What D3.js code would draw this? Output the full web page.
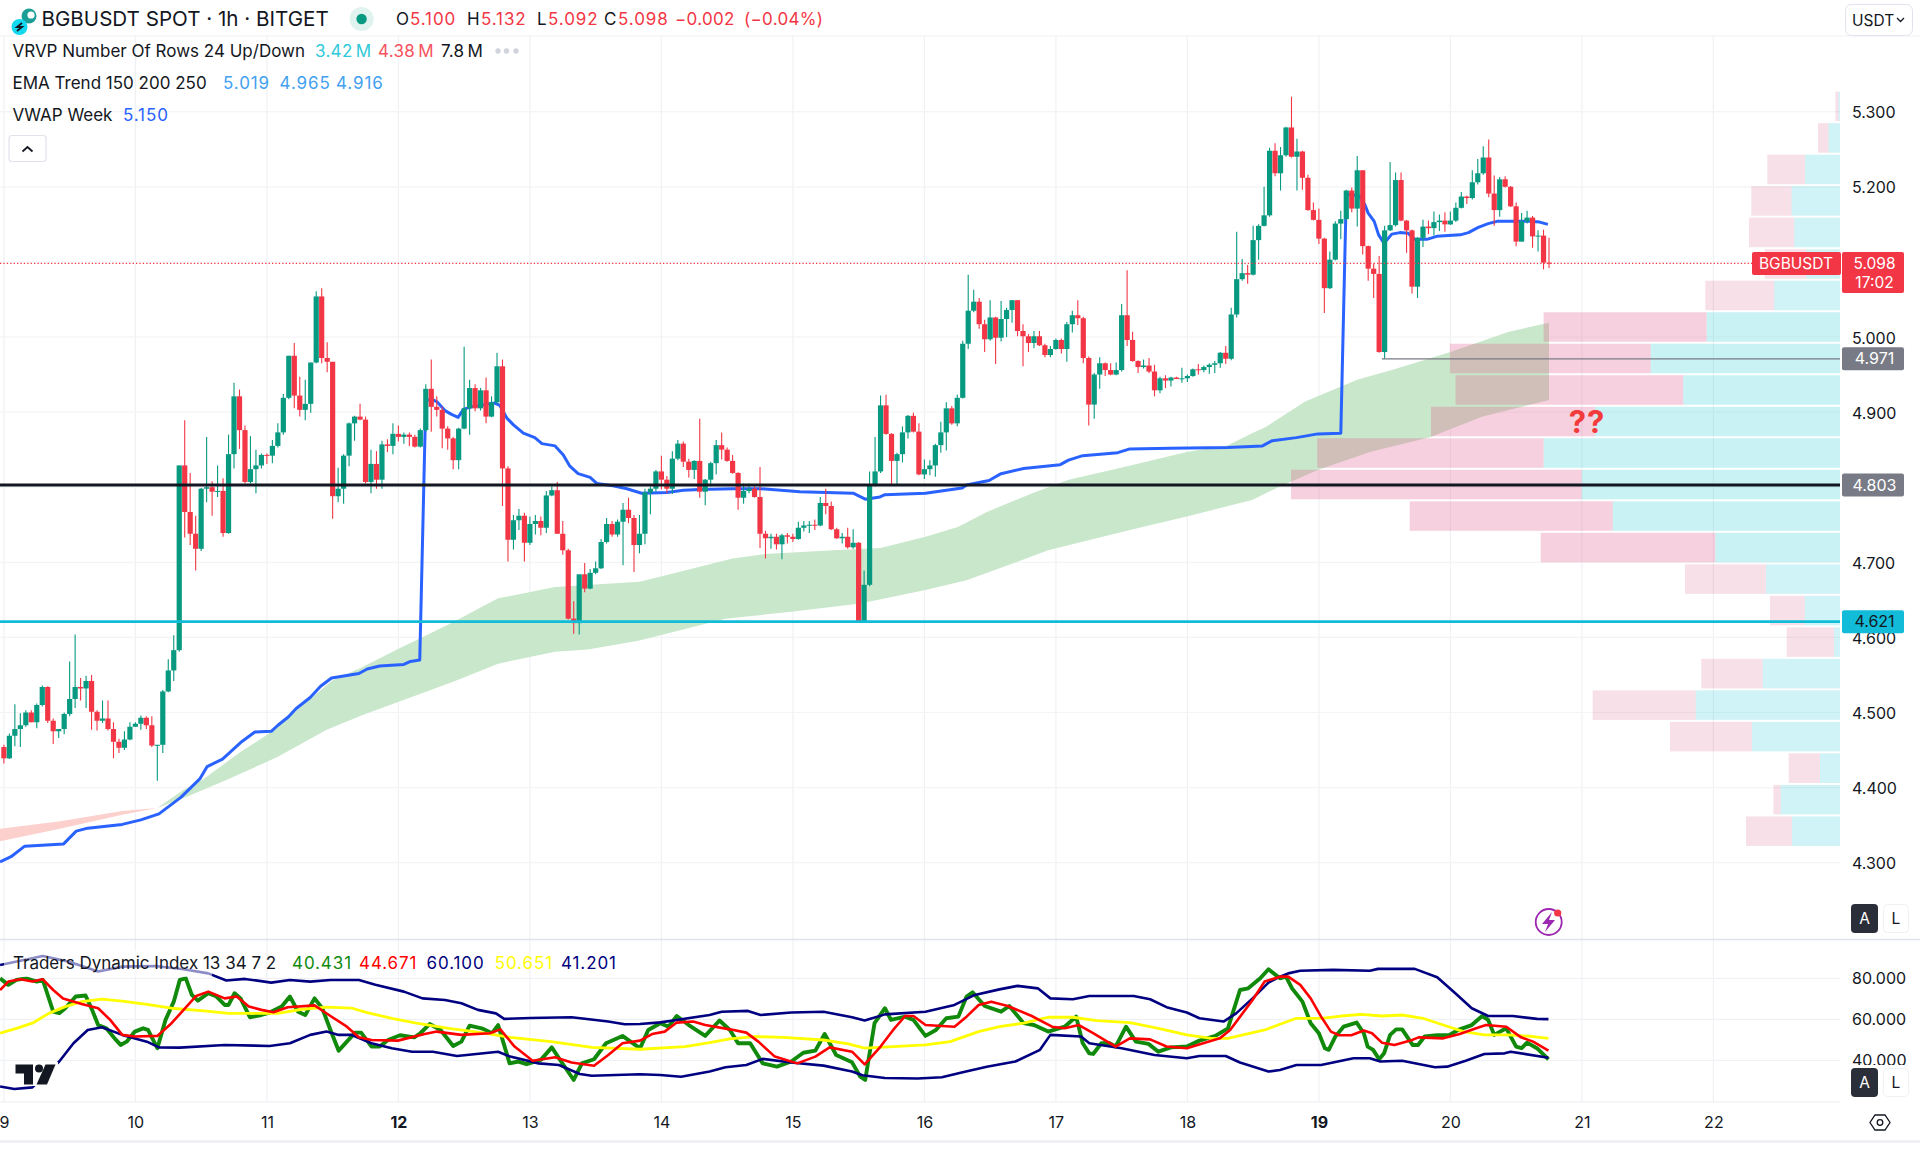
<!DOCTYPE html>
<html>
<head>
<meta charset="utf-8">
<title>BGBUSDT SPOT 1h</title>
<script src="https://cdn.jsdelivr.net/npm/d3@7"></script>
<style>
	html, body { margin: 0; padding: 0; background: #fff; }
	svg { display: block; font-family: Inter, Roboto, sans-serif; }
	.axis text { fill: #131722; }
</style>
</head>
<body>
<svg id="chart" width="1920" height="1151"></svg>
<script>
// hours are counted from the 9th 00:00, one candle per hour
var firstOpen = 4.454

var closes = [
	4.439,4.469,4.478,4.483,4.500,4.487,4.510,4.534,4.489,4.475,
	4.478,4.498,4.518,4.534,4.532,4.542,4.501,4.489,4.492,4.478,
	4.461,4.453,4.464,4.481,4.485,4.493,4.483,4.456,4.457,4.528,
	4.556,4.583,4.829,4.767,4.738,4.718,4.798,4.800,4.794,4.795,
	4.739,4.844,4.921,4.876,4.807,4.824,4.829,4.843,4.842,4.855,
	4.873,4.919,4.975,4.922,4.903,4.911,4.966,5.054,4.972,4.967,
	4.788,4.798,4.842,4.885,4.894,4.890,4.807,4.831,4.810,4.857,
	4.855,4.871,4.867,4.870,4.867,4.854,4.876,4.931,4.907,4.903,
	4.878,4.865,4.836,4.878,4.905,4.932,4.905,4.929,4.894,4.913,
	4.961,4.825,4.730,4.756,4.762,4.726,4.751,4.755,4.746,4.789,
	4.796,4.738,4.716,4.625,4.619,4.684,4.665,4.686,4.692,4.727,
	4.751,4.737,4.754,4.770,4.759,4.723,4.738,4.793,4.798,4.821,
	4.810,4.798,4.838,4.858,4.834,4.823,4.835,4.794,4.810,4.832,
	4.856,4.850,4.835,4.819,4.786,4.795,4.798,4.787,4.738,4.732,
	4.734,4.724,4.736,4.734,4.731,4.746,4.749,4.750,4.749,4.779,
	4.775,4.744,4.732,4.734,4.720,4.726,4.621,4.670,4.803,4.821,
	4.909,4.871,4.835,4.844,4.873,4.895,4.874,4.817,4.824,4.829,
	4.856,4.873,4.905,4.885,4.919,4.991,5.035,5.047,5.017,4.997,
	5.026,4.999,5.024,5.036,5.049,5.008,5.001,4.992,5.001,4.989,
	4.976,4.984,4.996,4.984,5.017,5.029,5.025,4.972,4.910,4.950,
	4.965,4.956,4.950,4.956,5.029,4.996,4.968,4.960,4.962,4.954,
	4.929,4.945,4.942,4.946,4.944,4.945,4.948,4.957,4.956,4.960,
	4.963,4.965,4.979,4.971,5.030,5.077,5.085,5.083,5.129,5.148,
	5.162,5.248,5.218,5.242,5.279,5.240,5.247,5.212,5.169,5.156,
	5.131,5.065,5.103,5.151,5.157,5.195,5.171,5.222,5.121,5.091,
	5.084,4.980,5.142,5.149,5.209,5.155,5.142,5.067,5.132,5.147,
	5.145,5.153,5.155,5.150,5.155,5.172,5.187,5.185,5.206,5.218,
	5.239,5.191,5.169,5.210,5.200,5.174,5.127,5.154,5.159,5.134,
	5.135,5.099,5.098
]

var highs = [
	4.457,4.472,4.511,4.499,4.503,4.503,4.512,4.536,4.535,4.492,
	4.478,4.500,4.568,4.604,4.546,4.549,4.550,4.503,4.516,4.516,
	4.487,4.465,4.475,4.487,4.487,4.496,4.495,4.495,4.457,4.530,
	4.571,4.603,4.829,4.889,4.819,4.762,4.799,4.867,4.808,4.829,
	4.812,4.870,4.939,4.930,4.882,4.868,4.850,4.845,4.845,4.863,
	4.885,4.924,4.975,4.992,4.947,4.943,4.966,5.061,5.065,4.993,
	4.967,4.826,4.844,4.886,4.895,4.911,4.894,4.850,4.848,4.862,
	4.864,4.885,4.882,4.873,4.873,4.870,4.878,4.937,4.970,4.921,
	4.907,4.881,4.867,4.879,4.987,4.943,4.937,4.932,4.946,4.921,
	4.979,4.970,4.828,4.763,4.771,4.766,4.761,4.763,4.761,4.795,
	4.801,4.807,4.755,4.718,4.648,4.684,4.699,4.691,4.701,4.731,
	4.759,4.755,4.757,4.779,4.786,4.763,4.763,4.798,4.801,4.823,
	4.842,4.815,4.848,4.863,4.861,4.838,4.836,4.891,4.811,4.834,
	4.863,4.873,4.853,4.843,4.820,4.805,4.805,4.801,4.827,4.742,
	4.738,4.738,4.738,4.739,4.738,4.754,4.755,4.755,4.757,4.787,
	4.798,4.781,4.746,4.739,4.746,4.744,4.727,4.689,4.821,4.867,
	4.922,4.923,4.872,4.846,4.881,4.896,4.899,4.885,4.837,4.836,
	4.858,4.887,4.913,4.908,4.923,4.995,5.083,5.063,5.052,5.023,
	5.049,5.027,5.048,5.039,5.049,5.049,5.017,5.004,5.008,5.008,
	4.991,4.988,4.998,4.998,5.020,5.035,5.049,5.027,4.974,4.952,
	4.973,4.966,4.965,4.966,5.044,5.089,5.007,4.969,4.970,4.972,
	4.963,4.947,4.949,4.947,4.947,4.959,4.950,4.958,4.964,4.962,
	4.965,4.968,4.980,4.988,5.039,5.140,5.104,5.096,5.148,5.150,
	5.200,5.252,5.258,5.253,5.280,5.320,5.264,5.248,5.216,5.179,
	5.171,5.132,5.114,5.154,5.168,5.196,5.199,5.241,5.222,5.122,
	5.098,5.108,5.148,5.233,5.219,5.219,5.156,5.143,5.133,5.156,
	5.155,5.167,5.163,5.166,5.167,5.179,5.193,5.188,5.222,5.237,
	5.254,5.263,5.215,5.213,5.214,5.201,5.179,5.165,5.168,5.161,
	5.142,5.143,5.132
]

var lows = [
	4.432,4.438,4.455,4.454,4.481,4.487,4.479,4.508,4.486,4.458,
	4.466,4.471,4.495,4.506,4.516,4.506,4.477,4.476,4.486,4.476,
	4.439,4.446,4.450,4.463,4.481,4.477,4.478,4.454,4.409,4.446,
	4.527,4.542,4.581,4.733,4.723,4.689,4.715,4.780,4.762,4.787,
	4.734,4.738,4.825,4.851,4.805,4.805,4.792,4.825,4.831,4.832,
	4.853,4.870,4.917,4.905,4.894,4.889,4.899,4.965,4.965,4.953,
	4.758,4.780,4.778,4.828,4.862,4.889,4.805,4.792,4.798,4.798,
	4.847,4.844,4.861,4.858,4.855,4.853,4.853,4.874,4.874,4.894,
	4.852,4.850,4.824,4.824,4.877,4.870,4.901,4.902,4.885,4.893,
	4.911,4.775,4.701,4.717,4.743,4.701,4.723,4.737,4.736,4.739,
	4.788,4.738,4.710,4.624,4.605,4.604,4.660,4.664,4.684,4.691,
	4.725,4.734,4.734,4.696,4.752,4.687,4.712,4.724,4.764,4.794,
	4.797,4.792,4.791,4.836,4.827,4.813,4.811,4.786,4.776,4.801,
	4.817,4.837,4.834,4.818,4.770,4.778,4.792,4.786,4.719,4.705,
	4.718,4.717,4.704,4.725,4.727,4.730,4.741,4.739,4.743,4.748,
	4.764,4.743,4.731,4.725,4.718,4.718,4.621,4.621,4.668,4.801,
	4.819,4.870,4.804,4.804,4.833,4.865,4.873,4.816,4.811,4.816,
	4.814,4.846,4.849,4.883,4.881,4.918,4.984,5.033,5.011,4.980,
	4.995,4.964,4.994,5.000,5.019,5.001,4.961,4.980,4.985,4.988,
	4.973,4.973,4.983,4.978,4.967,5.006,5.016,4.965,4.882,4.891,
	4.931,4.948,4.949,4.949,4.954,4.988,4.967,4.952,4.958,4.952,
	4.921,4.925,4.932,4.934,4.944,4.939,4.940,4.947,4.950,4.953,
	4.951,4.952,4.959,4.964,4.969,5.026,5.075,5.071,5.082,5.103,
	5.147,5.160,5.214,5.195,5.240,5.239,5.195,5.196,5.168,5.155,
	5.124,5.032,5.064,5.102,5.130,5.155,5.166,5.147,5.110,5.075,
	5.052,4.979,4.971,5.141,5.147,5.154,5.112,5.058,5.052,5.120,
	5.137,5.135,5.141,5.140,5.149,5.153,5.171,5.177,5.183,5.203,
	5.216,5.186,5.148,5.160,5.199,5.173,5.121,5.127,5.151,5.119,
	5.114,5.090,5.092
]

// [hour, price]
var vwapLine = [[-0.7,4.301],[1.3,4.308],[3.8,4.322],[10.9,4.325],[13.2,4.342],[15.3,4.346],[21.6,4.351],[25,4.357],[28.3,4.365],[32.3,4.387],
	[35.8,4.412],[37.1,4.428],[39.9,4.438],[43.2,4.460],[45.8,4.474],[48.8,4.475],[50,4.483],[51.9,4.494],[53.3,4.505],[55.9,4.520],[57.8,4.535],[59.8,4.546],
	[64.8,4.552],[66.3,4.558],[68.6,4.562],[73,4.564],[74.2,4.568],[75.9,4.570],[77,4.916],[78.4,4.916],[79,4.914],[80.5,4.902],[81.7,4.897],[82.9,4.893],
	[83.9,4.904],[85.4,4.907],[89.6,4.912],[90.5,4.909],[91.8,4.892],[93,4.883],[94.8,4.872],[96.9,4.866],[98.2,4.858],[100.6,4.855],[102.1,4.843],[103.3,4.828],
	[104.8,4.818],[107,4.813],[108.2,4.805],[111.2,4.802],[113.7,4.798],[116.4,4.792],[121,4.793],[124,4.796],[127,4.797],[133,4.798],[138,4.798],[145.3,4.794],
	[155,4.792],[157.2,4.784],[159.9,4.787],[160.8,4.790],[168.2,4.792],[174.9,4.799],[175.7,4.803],[179.8,4.809],[182,4.818],[186.1,4.825],[192.8,4.830],
	[194.3,4.836],[196.9,4.842],[203.3,4.846],[205.5,4.851],[212.9,4.852],[223.4,4.853],[229.7,4.855],[231.5,4.862],[235.9,4.866],[239.8,4.871],[244,4.872],
	[245,5.190],[247.4,5.188],[248.4,5.176],[249,5.165],[250.1,5.154],[250.9,5.136],[251.7,5.127],[252.4,5.129],[253.3,5.137],[254.8,5.139],[256.3,5.138],
	[257.5,5.130],[259.7,5.130],[261.5,5.134],[265.8,5.136],[267.3,5.139],[269.1,5.146],[270.9,5.151],[272.5,5.154],[278.5,5.154],[280.3,5.153],[281.8,5.150]]

var emaFastLine = [[28,4.373],[32.8,4.397],[36.4,4.411],[43.1,4.447],[48,4.470],[52.8,4.499],[57.2,4.526],[60,4.543],[65,4.559],[72.3,4.586],[76,4.599],[81.6,4.619],
	[90.2,4.652],[100.6,4.667],[116,4.674],[121,4.683],[127,4.694],[133,4.705],[139,4.711],[151.4,4.716],[160,4.719],[168.2,4.734],[174.1,4.747],[179.4,4.767],
	[187.7,4.792],[194.3,4.810],[203.3,4.825],[215.9,4.847],[223.4,4.856],[227.8,4.872],[230.3,4.880],[237.5,4.914],[247,4.943],[253.3,4.956],[263.6,4.979],[274.7,5.007],[282,5.019]]
var emaSlowLine = [[28,4.373],[32.8,4.386],[36.4,4.397],[40.6,4.410],[50,4.441],[58.9,4.477],[65.6,4.497],[73.8,4.519],[82,4.541],[90.2,4.565],[100.6,4.581],[106.6,4.584],[116,4.596],
	[131.7,4.625],[143.7,4.634],[156.3,4.645],[168.2,4.663],[175.7,4.676],[190.6,4.716],[205.5,4.743],[215.9,4.761],[227.8,4.783],[232.9,4.801],[239.8,4.823],[249.3,4.847],[260.4,4.867],[269.9,4.894],[282,4.916]]
// before the cross the slow average sits above the fast one
var emaFastEarly = [[-1,4.328],[10,4.345],[21.6,4.364],[28,4.373]]
var emaSlowEarly = [[-1,4.345],[10,4.355],[21.6,4.369],[28,4.373]]

// volume profile rows, bottom row first
var profileBottom = 4.321
var profileStep = 0.04196
var profileUp = [48,59.3,20,88,144.3,77.3,6,35.3,74,124.7,227.3,258.3,296.4,245,156.8,189.3,133.4,65.8,33.7,45.8,48.4,35,11.5,1.5]
var profileDown = [46,7.3,31.3,82,103,61.4,47.3,34.7,81,174.6,203,290.7,226.4,164,227.7,200.8,163,68.9,41.6,45.2,40.3,37.7,10.5,3.1]
var valueAreaRows = [9,10,11,12,13,14,15,16]

var priceTicks = [4.3,4.4,4.5,4.6,4.7,4.8,4.9,5.0,5.1,5.2,5.3]
var dayHours = [0,24,48,72,96,120,144,168,192,216,240,264,288,312]
var dayLabels = ["9","10","11","12","13","14","15","16","17","18","19","20","21","22"]
var boldDays = ["12","19"]
var tdiTicks = [40,60,80]

// Traders Dynamic Index, [hour, value]
var tdiPrice = [[-0.7,80],[0.8,76.8],[2.3,79.2],[4.1,80],[6,78.4],[7.1,79.2],[7.9,72.7],[9,63.7],[10.1,63],[11.2,65.4],[13.1,71.1],[14.9,71.6],[16.1,64.6],[17.2,57.2],[18.7,55.6],[20.2,50.7],[21.3,47.5],[22.4,49.1],[23.9,54],[25.4,55.6],[26.3,54.8],[28,45.9],[29.5,59.7],[31,68.6],[32.1,79.2],[33.2,80],[34.3,71.9],[35.4,69.1],[37.3,72.7],[38.8,71.1],[40.3,67],[41,67],[42.1,72.7],[43.2,70.2],[44.9,61],[47,62.1],[48.5,63.3],[50.7,66.2],[52.2,71.1],[53.7,63.7],[55,62.1],[56.7,70.2],[58.1,65.4],[59.6,54.8],[61.1,44.7],[62.6,49.1],[64.1,53.5],[65.2,53.5],[67.1,46.7],[68.6,46.7],[70.1,49.9],[72.3,52.2],[74.9,51.2],[76,53.2],[77.7,57.7],[79.7,54.8],[82,47],[83.5,49.1],[85,56.9],[87.2,55.6],[89.1,53.2],[90.2,57.2],[92.3,38.5],[93.9,39.4],[95.4,38.1],[98,40.2],[100,46.3],[101.7,39.4],[104,30.4],[105.5,38.5],[107.7,40.5],[109.9,48.3],[112.9,51.9],[116.1,45.8],
	[117.6,54.8],[119.8,58.1],[121.3,56.4],[122.8,61.6],[125,57.2],[128,51.9],[130.6,59.4],[132.5,54.8],[134,48.3],[136.2,48.3],[138.5,38.5],[141.1,36.9],[143.7,39.4],[145.9,43.7],[148.1,44.7],[149.8,52.8],[151.9,42.6],[154.8,39],[156.3,32],[157.2,30.4],[158.9,58.1],[160.8,65.4],[161.9,59.7],[164.5,61.3],[166,59.7],[168.2,51.9],[170.1,54.8],[172,60.5],[174.2,61.3],[175.7,71.1],[176.8,73.2],[179,66.5],[182,63.7],[183.5,66.5],[186.1,58.1],[188,57.2],[190.6,54],[193.6,56.4],[195.7,61.3],[196.9,48.3],[198.1,43.4],[198.8,43.1],[200.3,48.3],[201.8,48.3],[202.9,46.7],[204.8,56.4],[206.6,49.1],[208.9,48],[210.7,44.2],[213,46.3],[215.9,46.7],[218.2,49.6],[221.1,51.9],[223.4,55.6],[225.6,74.3],[227.1,75.1],[229.3,80],[230.8,84.4],[232.9,80],
	[234,80.8],[235.1,75.1],[237,68.6],[238.5,58.1],[240,53.2],[241.1,45.9],[241.8,45.1],[243,51.6],[244.5,56.4],[246.9,58.4],[248.2,53.2],[248.9,46.7],[249.9,45.1],[251,40.5],[251.9,43.4],[253,52.4],[254.1,55.1],[255.2,55.1],[257.1,47.5],[258.1,47.5],[259.3,51.6],[261.6,52.2],[263.8,52.4],[265.7,55.1],[267.9,57.2],[269.8,61.6],[270.9,59.7],[272,52.4],[274.2,55.6],[276,46.7],[277,45.9],[278,48.6],[279.8,45.9],[281.9,40.4]]

var tdiSignal = [[-0.7,74.3],[0.8,78.4],[3,79.5],[5.2,78.4],[7.1,79.5],[9,74.3],[10.8,70.2],[14.2,67.5],[17.2,65.4],[19.4,59.7],[21.6,52.4],[23.9,51.6],[28,51.9],[30.6,58.1],[32.8,64.6],[35.1,71.4],[37.3,73.5],[40.3,70.2],[42.5,71.1],[44.7,66.2],[47,64.6],[49.2,63.4],[51.8,65.9],[56.7,66.8],[59.6,61.6],[62.6,56.4],[64.8,51.2],[67.1,49.9],[71.9,49.6],[76.8,52.8],[79,54],[83.5,52.4],[88.7,53.2],[90.6,55.1],[93.2,46.7],[96.5,39.8],[100.6,41.5],[103.6,38.9],[107.7,37.3],[110.3,42.6],[112.9,48.3],[116.1,49.6],
	[118.3,52.8],[120.6,54],[122.8,58.4],[125.8,58.9],[128,57.2],[132.5,55.1],[135.5,53.5],[137.7,49.1],[140.7,41.8],[144.8,38.5],[148.1,41.8],[150.7,46.3],[154.8,44.2],[157.1,38],[160,46.7],[162.3,54.8],[164.5,61.6],[166,61.6],[168.2,57.2],[173.5,56.4],[175.7,61.3],[177.9,67],[180.2,68.6],[183.2,66.5],[187.6,61.6],[191.3,56.4],[193.6,55.6],[196.2,57.2],[198.8,53.2],[202.9,46.7],[205.5,50.7],[209.2,50.2],[212.2,46.7],[215.9,45.9],[221.9,50.7],[223.8,54.8],[227.9,69.4],[230.1,78.4],[232.9,80.8],
	[234.4,80.8],[236.6,76.8],[238.5,70.2],[240.4,61.3],[242.2,54],[243.7,52.2],[245.9,52.2],[248.2,54.5],[249.7,53.2],[251.5,48.6],[253.8,47.5],[256.7,49.6],[258.2,51.2],[262.7,50.7],[265.7,52.8],[268.7,55.6],[270.5,57.2],[274.2,56.4],[276.9,51.2],[279.1,49.1],[281.9,44.7]]

var tdiMiddle = [[-0.7,53.2],[2.3,55.6],[5.2,58.1],[8.2,62.9],[11.2,66.2],[14.2,68.6],[17.9,69.8],[21.6,68.9],[26.1,67.3],[30.6,65.4],[36.5,64.1],[41,62.9],[50,62.9],[54.4,64.9],[58.9,65.9],[63.4,65.5],[66.3,63.3],[70.8,60.5],[75.3,58.1],[81.2,55.6],[87.2,53.5],[92.4,51.2],[99.9,49.1],[107.3,46.3],[116.1,45.4],
	[124.3,46.7],[128.8,48.6],[132.5,50.4],[137,51.6],[142.2,51.2],[149.6,49.9],[154.1,48],[157.1,45.9],[162.3,46.7],[168.2,47.5],[172.7,49.1],[177.9,54],[181.7,56.4],[186.1,58.1],[190.6,61],[195.1,61],[199.5,59.4],[205.5,58.4],[210.7,55.6],[215.9,52.4],[220.4,50.7],[223.4,50.7],[230.1,54.8],[232.9,57.6],
	[235.9,60.5],[240.4,60.5],[244.1,61.6],[247.8,62.4],[251.5,61.6],[255.2,62.1],[259,60.5],[262.7,57.2],[266.4,54],[270.2,52.4],[274.6,52.4],[279.1,51.6],[281.9,50.7]]

var tdiUpper = [[-0.7,86.5],[7.1,90.9],[11.9,88.1],[17.2,83.3],[21.6,85.7],[27.6,86],[32.8,84.4],[37.3,82.4],[40.6,78.9],[44,79.7],[48.8,77.9],[52.2,79.2],[55.9,78.4],[59.6,79.2],[64.8,79.2],[67.8,76.8],[73,73.5],[76.4,70.2],[80.5,69.4],[83.5,67.8],[86.5,64.6],[89.8,62.9],[91.3,60.2],[96.1,60.6],[103.6,61],[110.3,58.9],[113.3,57.6],[116.1,57.7],
	[119.8,58.5],[122.8,59.7],[128.8,62.1],[131,63.7],[135.8,64.1],[138.1,62.1],[143.7,63.3],[149.6,63.7],[154.8,61],[157.1,59.4],[160.8,62.4],[168.2,63.7],[173.5,67],[177.2,71.9],[181.7,74.6],[185,76.3],[188.7,75.1],[191,70.2],[195.1,69.8],[198.1,71.4],[206.2,71.4],[209.2,69.8],[212.2,65.9],[215.9,63.3],[218.2,60.5],[222.6,58.9],[224.9,62.9],[227.9,70.2],[230.8,77.9],[232.9,80.8],
	[234.4,82.4],[236.6,83.7],[242.6,84.1],[249.3,83.7],[250.8,84.6],[257.5,84.6],[261.6,80.5],[264.9,72.7],[267.9,65.4],[270.9,61.6],[275.4,61.6],[279.8,60.2],[281.9,60.1]]

var tdiLower = [[-0.7,27.2],[1.9,26],[5.2,26.8],[10.1,39.4],[12.7,48.3],[15.3,54.8],[17.9,56.1],[21.6,52.4],[26.1,49.1],[28.3,46.3],[32.1,46.2],[40.3,47.5],[48.5,47],[52.2,48.3],[55.9,52.4],[58.9,54],[61.1,52.4],[63.4,52.4],[67.1,48.3],[70.8,45.9],[74.5,44.2],[78.3,44.2],[82.7,42.1],[90.2,44.2],[92.4,41.8],[97.6,38.5],[101.3,37.7],[105.1,33.3],[107.3,32.5],[116.1,33.2],
	[119.8,32.8],[123.6,32],[128.8,34.5],[131.7,36.6],[135.5,37.7],[138.5,40.7],[143.7,38.9],[149.6,37.4],[154.8,34.5],[156.7,32.7],[160.8,31.4],[166.8,31.1],[171.2,31.7],[175,34.2],[179.4,36.9],[184.6,39.4],[189.1,45.1],[191,52.4],[196.6,51.6],[198.1,48.3],[204,45.9],[210,42.6],[215.9,41],[218.2,42.1],[223,42.1],[225.6,38.9],[230.8,34.5],[232.9,35.3],
	[235.9,37.7],[240.4,37.7],[246.3,41],[249.3,41],[251.2,39.4],[255.2,39.8],[261.2,36.6],[263.4,36.9],[266.8,39.8],[270.2,43.1],[273.9,43.4],[275,44.2],[281.9,41.2]]

var svg = d3.select("#chart"),
	plotRight = 1840

var xScale = d3.scaleLinear().domain([0, 282]).range([3.9, 1549])
var yScale = d3.scaleLinear().domain([4.3, 5.3]).range([862.7, 111.7])
var tdiScale = d3.scaleLinear().domain([40, 80]).range([1060.3, 978.3])
var profileScale = d3.scaleLinear().domain([0, 549]).range([0, 549])

var defs = svg.append("defs")
defs.append("clipPath").attr("id", "mainClip")
	.append("rect").attr("x", 0).attr("y", 37).attr("width", plotRight).attr("height", 901)
defs.append("clipPath").attr("id", "tdiClip")
	.append("rect").attr("x", 0).attr("y", 941).attr("width", plotRight).attr("height", 160)

// grid
var grid = svg.append("g")
grid.selectAll(".vgrid").data(dayHours).enter().append("line")
	.attr("x1", function(d) { return xScale(d) }).attr("x2", function(d) { return xScale(d) })
	.attr("y1", 36).attr("y2", 1102)
	.attr("stroke", "#f0f1f4").attr("stroke-width", 1.2)
grid.selectAll(".hgrid").data(priceTicks).enter().append("line")
	.attr("x1", 0).attr("x2", plotRight)
	.attr("y1", function(d) { return yScale(d) }).attr("y2", function(d) { return yScale(d) })
	.attr("stroke", "#f3f4f6").attr("stroke-width", 1.2)
grid.selectAll(".tgrid").data(tdiTicks).enter().append("line")
	.attr("x1", 0).attr("x2", plotRight)
	.attr("y1", function(d) { return tdiScale(d) }).attr("y2", function(d) { return tdiScale(d) })
	.attr("stroke", "#f0f1f4").attr("stroke-width", 1.2)
grid.append("line").attr("x1", 0).attr("x2", 1920).attr("y1", 36).attr("y2", 36).attr("stroke", "#f0f1f4").attr("stroke-width", 1.2)
grid.append("line").attr("x1", 0).attr("x2", 1920).attr("y1", 939.5).attr("y2", 939.5).attr("stroke", "#e0e3eb").attr("stroke-width", 1.5)
grid.append("line").attr("x1", 0).attr("x2", plotRight).attr("y1", 1102).attr("y2", 1102).attr("stroke", "#eceef2").attr("stroke-width", 1.2)
grid.append("rect").attr("x", 0).attr("y", 1140).attr("width", 1920).attr("height", 3).attr("fill", "#f0f1f4")

var main = svg.append("g").attr("clip-path", "url(#mainClip)")

// volume profile
var profileRows = d3.range(profileUp.length)
function rowY(i) { return yScale(profileBottom + (i + 1) * profileStep) + 1 }
function rowH(i) { return yScale(profileBottom + i * profileStep) - yScale(profileBottom + (i + 1) * profileStep) - 2 }
function inValueArea(i) { return valueAreaRows.indexOf(i) >= 0 }

// moving average band
var pointLine = d3.line()
	.x(function(d) { return xScale(d[0]) })
	.y(function(d) { return yScale(d[1]) })

main.append("path")
	.attr("d", pointLine(emaFastLine.concat(emaSlowLine.slice().reverse())))
	.attr("fill", "#c9e7cb")
main.append("path")
	.attr("d", pointLine(emaFastEarly.concat(emaSlowEarly.slice().reverse())))
	.attr("fill", "#fbd0cd")

main.selectAll(".rowUp").data(profileRows).enter().append("rect")
	.attr("x", function(i) { return plotRight - profileScale(profileUp[i]) })
	.attr("width", function(i) { return profileScale(profileUp[i]) })
	.attr("y", rowY).attr("height", rowH)
	.attr("fill", function(i) { return inValueArea(i) ? "rgba(75,212,218,0.3)" : "rgba(63,207,219,0.25)" })
main.selectAll(".rowDown").data(profileRows).enter().append("rect")
	.attr("x", function(i) { return plotRight - profileScale(profileUp[i]) - profileScale(profileDown[i]) })
	.attr("width", function(i) { return profileScale(profileDown[i]) })
	.attr("y", rowY).attr("height", rowH)
	.attr("fill", function(i) { return inValueArea(i) ? "rgba(225,98,145,0.3)" : "rgba(215,100,140,0.2)" })

main.append("path")
	.attr("d", pointLine(vwapLine))
	.attr("fill", "none")
	.attr("stroke", "#2962ff")
	.attr("stroke-width", 3)
	.attr("stroke-linejoin", "round")

// candles
var opens = closes.map(function(c, i) { return i == 0 ? firstOpen : closes[i - 1] })
function candleColor(i) { return closes[i] >= opens[i] ? "#089981" : "#f23645" }

var candles = main.selectAll(".candle").data(closes).enter().append("g").attr("class", "candle")
candles.append("line")
	.attr("x1", function(d, i) { return xScale(i) }).attr("x2", function(d, i) { return xScale(i) })
	.attr("y1", function(d, i) { return yScale(highs[i]) }).attr("y2", function(d, i) { return yScale(lows[i]) })
	.attr("stroke", function(d, i) { return candleColor(i) })
	.attr("stroke-width", 1.1)
candles.append("rect")
	.attr("x", function(d, i) { return xScale(i) - 2.6 })
	.attr("width", 5.2)
	.attr("y", function(d, i) { return yScale(Math.max(opens[i], closes[i])) })
	.attr("height", function(d, i) { return Math.max(1, Math.abs(yScale(opens[i]) - yScale(closes[i]))) })
	.attr("fill", function(d, i) { return candleColor(i) })

// level lines
main.append("line").attr("x1", 0).attr("x2", plotRight).attr("y1", yScale(5.098)).attr("y2", yScale(5.098))
	.attr("stroke", "#f23645").attr("stroke-width", 1.2).attr("stroke-dasharray", "1.3 2.1")
main.append("line").attr("x1", xScale(251.5)).attr("x2", plotRight).attr("y1", yScale(4.971)).attr("y2", yScale(4.971))
	.attr("stroke", "#787b86").attr("stroke-width", 1.2)
main.append("line").attr("x1", 0).attr("x2", plotRight).attr("y1", yScale(4.803)).attr("y2", yScale(4.803))
	.attr("stroke", "#131722").attr("stroke-width", 2.9)
main.append("line").attr("x1", 0).attr("x2", plotRight).attr("y1", yScale(4.621)).attr("y2", yScale(4.621))
	.attr("stroke", "#12bcd8").attr("stroke-width", 2.9)

svg.append("text").attr("x", 1587).attr("y", 433)
	.attr("text-anchor", "middle").attr("font-size", 31).attr("font-weight", 700)
	.attr("fill", "#f23c3c").attr("letter-spacing", 1).text("??")

// indicator pane
var tdi = svg.append("g").attr("clip-path", "url(#tdiClip)")
var tdiLine = d3.line()
	.x(function(d) { return xScale(d[0]) })
	.y(function(d) { return tdiScale(d[1]) })

function drawTdi(points, color, width) {
	tdi.append("path").attr("d", tdiLine(points))
		.attr("fill", "none").attr("stroke", color).attr("stroke-width", width)
		.attr("stroke-linejoin", "round")
}
drawTdi(tdiPrice, "#118a0c", 3.9)
drawTdi(tdiMiddle, "#ffff00", 2.8)
drawTdi(tdiUpper, "#000080", 2.6)
drawTdi(tdiLower, "#000080", 2.6)
drawTdi(tdiSignal, "#ff0000", 2.6)

// axes
var priceAxis = d3.axisRight(yScale).tickValues(priceTicks).tickSize(0).tickPadding(0)
	.tickFormat(d3.format(".3f"))
svg.append("g").attr("class", "axis").attr("transform", "translate(1852,1)").call(priceAxis)
	.call(function(g) { g.select(".domain").remove() })
	.selectAll("text").attr("font-size", 16).attr("font-family", "Inter, Roboto, sans-serif")

var tdiAxis = d3.axisRight(tdiScale).tickValues(tdiTicks).tickSize(0).tickPadding(0)
	.tickFormat(d3.format(".3f"))
svg.append("g").attr("class", "axis").attr("transform", "translate(1852,0)").call(tdiAxis)
	.call(function(g) { g.select(".domain").remove() })
	.selectAll("text").attr("font-size", 16).attr("font-family", "Inter, Roboto, sans-serif")

var dayAxis = d3.axisBottom(xScale).tickValues(dayHours).tickSize(0).tickPadding(0)
	.tickFormat(function(d, i) { return dayLabels[i] })
svg.append("g").attr("class", "axis").attr("transform", "translate(0,1117)").call(dayAxis)
	.call(function(g) { g.select(".domain").remove() })
	.selectAll("text").attr("font-size", 16).attr("font-family", "Inter, Roboto, sans-serif")
	.attr("font-weight", function(d, i) { return boldDays.indexOf(dayLabels[i]) >= 0 ? 700 : 400 })

// tags on the price scale
function priceTag(value, color, textColor) {
	svg.append("rect").attr("x", 1842).attr("y", yScale(value) - 11.5).attr("width", 62).attr("height", 23)
		.attr("rx", 2).attr("fill", color)
	svg.append("text").attr("x", 1874.5).attr("y", yScale(value) + 5.6).attr("text-anchor", "middle")
		.attr("font-size", 16).attr("fill", textColor).text(d3.format(".3f")(value))
}
priceTag(4.971, "#787b86", "#fff")
priceTag(4.803, "#787b86", "#fff")
priceTag(4.621, "#12bcd8", "#131722")

svg.append("rect").attr("x", 1752).attr("y", 252).attr("width", 89).attr("height", 23).attr("rx", 2).attr("fill", "#f23645")
svg.append("text").attr("x", 1796).attr("y", 269).attr("text-anchor", "middle")
	.attr("font-size", 15.5).attr("fill", "#fff").text("BGBUSDT")
svg.append("rect").attr("x", 1842).attr("y", 252).attr("width", 62).attr("height", 41).attr("rx", 2).attr("fill", "#f23645")
svg.append("text").attr("x", 1874.5).attr("y", 268.5).attr("text-anchor", "middle")
	.attr("font-size", 15.5).attr("fill", "#fff").text("5.098")
svg.append("text").attr("x", 1874.5).attr("y", 288).attr("text-anchor", "middle")
	.attr("font-size", 15.5).attr("fill", "#fff").text("17:02")

// A / L buttons
function scaleButtons(y) {
	svg.append("rect").attr("x", 1851).attr("y", y).attr("width", 27).attr("height", 29).attr("rx", 4).attr("fill", "#2a2e39")
	svg.append("text").attr("x", 1864.5).attr("y", y + 20).attr("text-anchor", "middle").attr("font-size", 15.5).attr("fill", "#fff").text("A")
	svg.append("rect").attr("x", 1883.5).attr("y", y + 0.5).attr("width", 25).attr("height", 28).attr("rx", 4).attr("fill", "#fff").attr("stroke", "#f0f1f4")
	svg.append("text").attr("x", 1896).attr("y", y + 20).attr("text-anchor", "middle").attr("font-size", 15.5).attr("fill", "#131722").text("L")
}
scaleButtons(904)
svg.append("rect").attr("x", 1842).attr("y", 1065).attr("width", 78).attr("height", 36).attr("fill", "#fff")
scaleButtons(1068)

// settings hexagon
svg.append("path").attr("d", "M1875 1115L1885 1115L1890 1122.5L1885 1130L1875 1130L1870 1122.5Z")
	.attr("fill", "none").attr("stroke", "#131722").attr("stroke-width", 1.3)
svg.append("circle").attr("cx", 1880).attr("cy", 1122.5).attr("r", 2.8).attr("fill", "none").attr("stroke", "#131722").attr("stroke-width", 1.3)

// lightning badge
svg.append("circle").attr("cx", 1548.7).attr("cy", 922).attr("r", 13).attr("fill", "#fff").attr("stroke", "#9c27b0").attr("stroke-width", 1.8)
svg.append("path").attr("d", "M1552 912L1542 924L1548 924L1545 932L1555 920L1549 920Z").attr("fill", "#9c27b0")
svg.append("circle").attr("cx", 1557.7).attr("cy", 913).attr("r", 3.6).attr("fill", "#f23645")

// legend
function legendText(x, y, size, color, text) {
	return svg.append("text").attr("x", x).attr("y", y).attr("font-size", size).attr("fill", color).text(text)
}
function legendValue(x, y, color, text) {
	return legendText(x, y, 17, color, text).attr("letter-spacing", 0.9)
}
function legendVolume(x, y, color, text) {
	return legendText(x, y, 17, color, text).attr("letter-spacing", 0.3).attr("word-spacing", -2)
}

// symbol logo
svg.append("circle").attr("cx", 29).attr("cy", 16).attr("r", 7.5).attr("fill", "#1b9e96")
svg.append("circle").attr("cx", 31).attr("cy", 15).attr("r", 3.6).attr("fill", "#fff")
svg.append("circle").attr("cx", 19.5).attr("cy", 27).attr("r", 8).attr("fill", "#12d8f0")
svg.append("path").attr("d", "M22 23L17 27L22 27L17 31").attr("fill", "none").attr("stroke", "#131722").attr("stroke-width", 1.8)

legendText(41.5, 26, 20.6, "#131722", "BGBUSDT SPOT · 1h · BITGET")
svg.append("circle").attr("cx", 361.6).attr("cy", 19).attr("r", 12).attr("fill", "#e0f3ee")
svg.append("circle").attr("cx", 361.6).attr("cy", 19).attr("r", 5.2).attr("fill", "#089981")

legendText(396, 25, 17, "#131722", "O")
legendValue(410, 25, "#f23645", "5.100")
legendText(467, 25, 17, "#131722", "H")
legendValue(481, 25, "#f23645", "5.132")
legendText(537, 25, 17, "#131722", "L")
legendValue(548, 25, "#f23645", "5.092")
legendText(604, 25, 17, "#131722", "C")
legendValue(618, 25, "#f23645", "5.098")
legendVolume(675, 25, "#f23645", "−0.002")
legendVolume(744, 25, "#f23645", "(−0.04%)")

legendText(12.5, 57, 17, "#131722", "VRVP Number Of Rows 24 Up/Down")
legendVolume(315, 57, "#2fc9d8", "3.42 M")
legendVolume(378, 57, "#f7525f", "4.38 M")
legendVolume(441, 57, "#131722", "7.8 M")
svg.selectAll(".dot").data([498, 506.5, 516]).enter().append("circle")
	.attr("cx", function(d) { return d }).attr("cy", 51).attr("r", 2.7).attr("fill", "#d1d4dc")

legendText(12.5, 89, 17, "#131722", "EMA Trend 150 200 250")
legendValue(223, 89, "#42a0f0", "5.019")
legendValue(279.6, 89, "#42a0f0", "4.965")
legendValue(336, 89, "#42a0f0", "4.916")

legendText(12.5, 121, 17, "#131722", "VWAP Week")
legendValue(123, 121, "#2962ff", "5.150")

svg.append("rect").attr("x", 9).attr("y", 135.5).attr("width", 37).attr("height", 26).attr("rx", 3)
	.attr("fill", "#fff").attr("stroke", "#e0e3eb").attr("stroke-width", 1.2)
svg.append("path").attr("d", "M22.5 151.5L27.5 147L32.5 151.5").attr("fill", "none").attr("stroke", "#131722").attr("stroke-width", 1.8)

// USDT selector
svg.append("rect").attr("x", 1845.5).attr("y", 4.5).attr("width", 67).attr("height", 31).attr("rx", 6)
	.attr("fill", "#fff").attr("stroke", "#e0e3eb")
legendText(1852, 25.5, 15.5, "#131722", "USDT")
svg.append("path").attr("d", "M1897 18L1900.5 21.5L1904 18").attr("fill", "none").attr("stroke", "#131722").attr("stroke-width", 1.3)

// indicator legend, the backing washes out the lines under the title
svg.append("rect").attr("x", 4).attr("y", 950).attr("width", 208).attr("height", 27).attr("fill", "rgba(255,255,255,0.55)")
legendText(13, 968.5, 17, "#131722", "Traders Dynamic Index 13 34 7 2")
legendValue(292, 968.5, "#118a0c", "40.431")
legendValue(359, 968.5, "#ff0000", "44.671")
legendValue(426.5, 968.5, "#000080", "60.100")
legendValue(494.7, 968.5, "#ffff00", "50.651")
legendValue(561, 968.5, "#000080", "41.201")

// TradingView mark
svg.append("rect").attr("x", 13).attr("y", 1062).attr("width", 45).attr("height", 24).attr("fill", "#fff")
svg.append("path").attr("d", "M15.5 1064.5H33V1084.5H24V1073.5H15.5Z").attr("fill", "#131722")
svg.append("circle").attr("cx", 39).attr("cy", 1068.5).attr("r", 4).attr("fill", "#131722")
svg.append("path").attr("d", "M45.5 1064.5H55.5L47 1084.5H36.5Z").attr("fill", "#131722")
</script>
</body>
</html>
